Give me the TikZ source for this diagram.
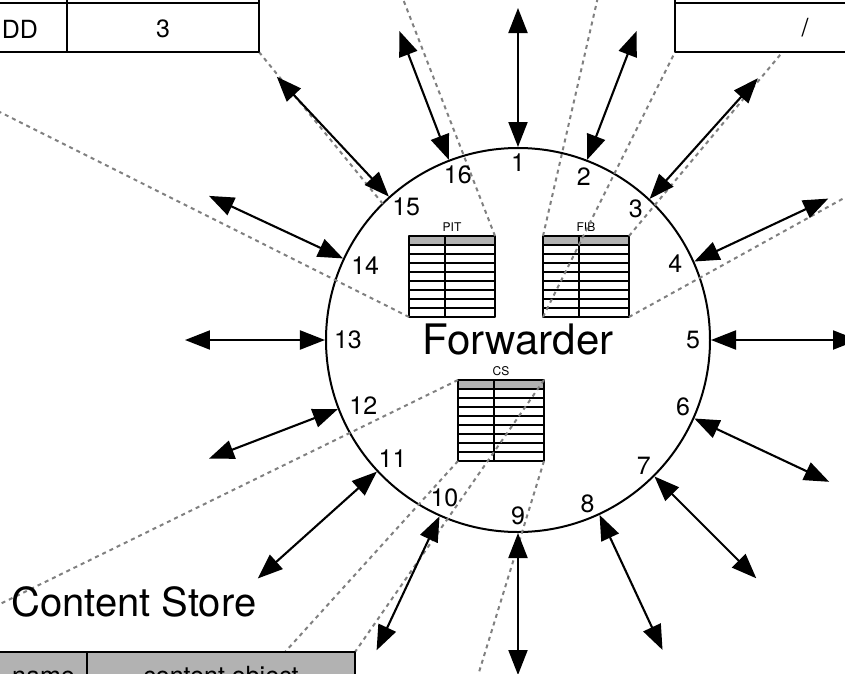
\documentclass[tikz,border=0pt]{standalone}
\usepackage{fontspec}
\setmainfont{TeX Gyre Heros}
\usetikzlibrary{arrows.meta,calc}

\colorlet{headgray}{gray!60}
\newcommand{\fwdfont}{\fontsize{42}{50}\selectfont}
\newcommand{\cstfont}{\fontsize{40}{48}\selectfont}
\newcommand{\numfont}{\fontsize{25}{30}\selectfont}
\newcommand{\capfont}{\fontsize{12}{14}\selectfont}

% small table: name, north west corner, caption
\newcommand{\minitable}[3]{%
  \fill[headgray] (#2) rectangle ++(86,-9);
  \foreach \k in {1,...,8}
    \draw[tabline] ($(#2)+(0,-9*\k)$) -- ++(86,0);
  \draw[tabline] ($(#2)+(36,0)$) -- ++(0,-81);
  \node[minitab,anchor=north west] (#1) at (#2) {};
  \node[minicap,above=4pt] (#1cap) at (#1.north) {#3};
}

\begin{document}
\begin{tikzpicture}[x=1pt,y=1pt,line join=round,
    >={Triangle[length=25pt,width=19pt]},
    portarrow/.style={<->,line width=2.1pt},
    portnum/.style={inner sep=0pt,font=\numfont},
    zoomline/.style={gray,line width=2pt,dash pattern=on 4pt off 4pt},
    tabline/.style={line width=2pt},
    minitab/.style={draw,line width=2pt,minimum width=86pt,minimum height=81pt,inner sep=0pt,outer sep=0pt},
    minicap/.style={inner sep=0pt,font=\capfont},
    bigtab/.style={draw,fill=white,line width=2pt,inner sep=0pt,outer sep=0pt},
    celltext/.style={inner sep=0pt,font=\numfont}]
  \useasboundingbox (-518,-333) rectangle (327,340);
  \clip (-518,-333) rectangle (327,340);

  % forwarder
  \node[circle,draw,line width=2pt,minimum size=384pt,inner sep=0pt,font=\fwdfont] (fwd) at (0,0) {Forwarder};

  % tables inside
  \minitable{pit}{-109,104}{PIT}
  \minitable{fib}{25,104}{FIB}
  \minitable{cs}{-60,-40}{CS}

  % zoomed tables (mostly outside)
  \coordinate (bigpitse) at (-259,288);
  \coordinate (bigfibsw) at (157,288);
  \coordinate (bigcsne) at (-163,-312);
  \node[bigtab,anchor=south east,minimum width=379pt,minimum height=424pt,fill=none,draw=none] (bigpit) at (bigpitse) {};
  \node[bigtab,anchor=south west,minimum width=433pt,minimum height=390pt,fill=none,draw=none] (bigfib) at (bigfibsw) {};
  \node[bigtab,anchor=north east,minimum width=453pt,minimum height=423pt,fill=none,draw=none] (bigcs) at (bigcsne) {};

  % zoom lines
  \draw[zoomline] (pit.south west) -- (bigpit.south west);
  \draw[zoomline] (pit.north east) -- (bigpit.north east);
  \draw[zoomline] (bigpit.south east) -- ($(bigpit.south east)!0.825!(pit.north west)$);
  \draw[zoomline] (fib.north west) -- (bigfib.north west);
  \draw[zoomline] (fib.south west) -- (bigfib.south west);
  \draw[zoomline] (fib.north east) -- (bigfib.north east);
  \draw[zoomline] (fib.south east) -- (bigfib.south east);
  \draw[zoomline] (cs.north west) -- (bigcs.north west);
  \draw[zoomline] (cs.south west) -- (bigcs.south west);
  \draw[zoomline] (cs.north east) -- (bigcs.north east);
  \draw[zoomline] (cs.south east) -- (bigcs.south east);

  % PIT, top left
  \node[bigtab,anchor=south east,minimum width=379pt,minimum height=424pt] (pitbox) at (bigpitse) {};
  \draw[tabline] (-638,337) -- (-259,337);
  \draw[tabline] (-451,288) -- (-451,400);
  \node[celltext] (pitname) at (-498,311) {DD};
  \node[celltext] (pitface) at (-355,311) {3};

  % FIB, top right
  \node[bigtab,anchor=south west,minimum width=433pt,minimum height=390pt] (fibbox) at (bigfibsw) {};
  \draw[tabline] (157,337) -- (590,337);
  \node[celltext] (fibname) at (287,312.5) {/};

  % CS, bottom left
  \node[bigtab,fill=headgray,anchor=north east,minimum width=453pt,minimum height=423pt] (csbox) at (bigcsne) {};
  \draw[tabline] (-431,-312) -- (-431,-400);
  \node[celltext,anchor=base] (csname) at (-474.5,-344) {name};
  \node[celltext,anchor=base] (csdata) at (-297,-344) {content object};
  \node[anchor=base west,inner sep=0pt,font=\cstfont] (cstitle) at (-507,-276) {Content Store};

  % faces
  \foreach \n/\a/\r/\la/\lr in {1/90/332/90/177, 2/69/331/68/176, 3/47.5/355/48/176,
      4/24.5/341/26/175, 5/0/340/0/175, 6/-24.5/342/-22/178, 7/-45/337/-45/178,
      8/-65/342/-67/178, 9/-90/335/-90/176, 10/-114.5/341/-115/174,
      11/-137.5/353/-136.5/173, 12/-159/331/-157/168, 13/180/333/180/170,
      14/155/341/154/170, 15/132.5/357/130/174, 16/111/331/110/176}{
    \coordinate (out\n) at (\a:\r);
    \draw[portarrow] (fwd.\a) -- (out\n);
    \node[portnum] (num\n) at (\la:\lr) {\n};
  }
\end{tikzpicture}
\end{document}
